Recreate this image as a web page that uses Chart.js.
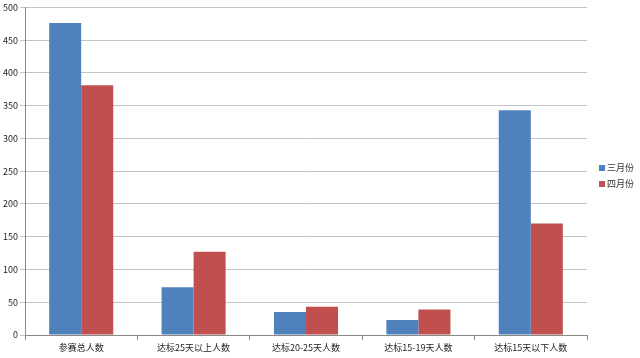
<!DOCTYPE html>
<html><head><meta charset="utf-8">
<script src="https://cdn.jsdelivr.net/npm/chart.js@4/dist/chart.umd.min.js"></script>
<style>html,body{margin:0;padding:0;background:#fff}#wrap{width:640px;height:358px;position:relative}</style>
</head><body><div id="wrap"><canvas id="c" width="640" height="358"></canvas></div>
<script>
const categories = ['参赛总人数','达标25天以上人数','达标20-25天人数','达标15-19天人数','达标15天以下人数'];
const seriesNames = ['三月份','四月份'];
const march = [476, 73, 35, 23, 343];
const april = [381, 127, 43, 39, 170];
const colors = ['#4F81BD','#C0504D'];
const FONT = '"Noto Sans CJK SC", "DejaVu Sans", sans-serif';

const legendPlugin = {
  id:'customLegend',
  afterDraw(chart){
    const ctx = chart.ctx;
    ctx.save();
    ctx.font = '9px ' + FONT;
    ctx.textBaseline = 'middle';
    seriesNames.forEach((n,i)=>{
      const y = 168 + i*16;
      ctx.fillStyle = colors[i];
      ctx.fillRect(599, y-3, 6, 6);
      ctx.fillStyle = '#333';
      ctx.fillText(n, 607, y);
    });
    ctx.restore();
  }
};

new Chart(document.getElementById('c'), {
  type:'bar',
  data:{
    labels: categories,
    datasets:[
      {label:seriesNames[0], data:march, backgroundColor:colors[0], borderWidth:0},
      {label:seriesNames[1], data:april, backgroundColor:colors[1], borderWidth:0}
    ]
  },
  options:{
    responsive:false,
    animation:false,
    devicePixelRatio:1,
    layout:{padding:{top:7,right:53,left:0,bottom:0}},
    plugins:{legend:{display:false},tooltip:{enabled:false}},
    datasets:{bar:{categoryPercentage:0.57,barPercentage:1.0}},
    scales:{
      x:{
        grid:{display:true,drawOnChartArea:false,offset:true,tickLength:5,color:'#888'},
        border:{display:true,color:'#888'},
        ticks:{font:{family:FONT,size:9},color:'#222',padding:2,maxRotation:0,autoSkip:false},
        afterFit(s){s.height=23;}
      },
      y:{
        min:0,max:500,
        grid:{color:'#c4c4c4',tickLength:5},
        border:{display:true,color:'#888'},
        ticks:{stepSize:50,font:{family:FONT,size:9},color:'#222',padding:2},
        afterFit(s){s.width=25;}
      }
    }
  },
  plugins:[legendPlugin]
});
</script></body></html>
